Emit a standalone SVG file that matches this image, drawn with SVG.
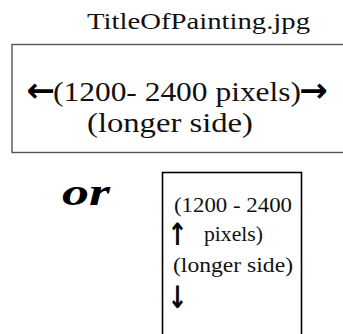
<svg xmlns="http://www.w3.org/2000/svg" width="343" height="334" viewBox="0 0 343 334">
<style>
.ar{font-family:"DejaVu Sans",sans-serif;font-weight:bold;fill:#000}
.s{font-family:"Liberation Serif","Times New Roman",serif;fill:#111}
</style>
<rect width="343" height="334" fill="#fff"/>
<g id="landscape">
<rect x="12" y="44.5" width="340" height="108" fill="none" stroke="#555" stroke-width="1.4"/>
<text class="s" x="198.5" y="28.5" font-size="24" text-anchor="middle" textLength="223" lengthAdjust="spacingAndGlyphs">TitleOfPainting.jpg</text>
<text class="ar" x="40.5" y="102" font-size="34" text-anchor="middle">←</text>
<text class="s" x="53" y="100.5" font-size="28" textLength="248" lengthAdjust="spacingAndGlyphs">(1200- 2400 pixels)</text>
<text class="ar" x="313.5" y="102" font-size="34" text-anchor="middle">→</text>
<text class="s" x="170" y="132" font-size="28" text-anchor="middle" textLength="166" lengthAdjust="spacingAndGlyphs">(longer side)</text>
</g>
<g id="or">
<text x="86" y="205" font-family="'Liberation Serif',serif" font-weight="bold" font-style="italic" font-size="38" text-anchor="middle" textLength="48" lengthAdjust="spacingAndGlyphs" fill="#000">or</text>
</g>
<g id="portrait">
<rect x="162.5" y="172.5" width="139" height="170" fill="none" stroke="#000" stroke-width="1.6"/>
<text class="s" x="233" y="212" font-size="21" text-anchor="middle" textLength="118" lengthAdjust="spacingAndGlyphs">(1200 - 2400</text>
<text class="ar" transform="translate(177.5,245) scale(0.85,1.1)" font-size="28" text-anchor="middle">↑</text>
<text class="s" x="233.5" y="241" font-size="21" text-anchor="middle" textLength="59" lengthAdjust="spacingAndGlyphs">pixels)</text>
<text class="s" x="233" y="272" font-size="21" text-anchor="middle" textLength="120" lengthAdjust="spacingAndGlyphs">(longer side)</text>
<text class="ar" transform="translate(177.5,308) scale(0.85,1.1)" font-size="28" text-anchor="middle">↓</text>
</g>
</svg>
